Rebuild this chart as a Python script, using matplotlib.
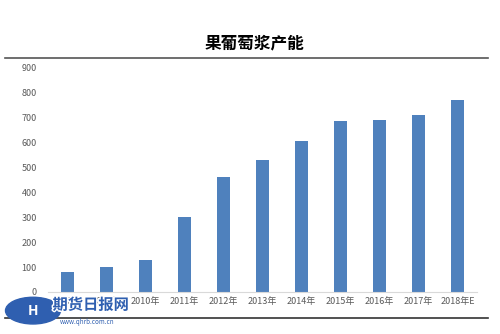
import matplotlib.pyplot as plt
import matplotlib.patheffects as pe
from matplotlib.patches import Ellipse

plt.rcParams['font.family'] = ['Noto Sans CJK SC', 'DejaVu Sans']

# data
years = ['2008年', '2009年', '2010年', '2011年', '2012年', '2013年',
         '2014年', '2015年', '2016年', '2017年', '2018年E']
capacity = [80, 100, 130, 300, 460, 530, 608, 685, 690, 710, 770]
yticks = [0, 100, 200, 300, 400, 500, 600, 700, 800, 900]

fig = plt.figure(figsize=(5, 3.34), dpi=100)
ax = fig.add_axes([0.096, 0.126, 0.858, 0.671])

ax.bar(range(len(years)), capacity, width=0.34, color='#4F81BD')
ax.set_xlim(-0.5, len(years) - 0.5)
ax.set_ylim(0, 900)
ax.set_yticks(yticks)
ax.set_xticks(range(len(years)))
ax.set_xticklabels(years)
ax.tick_params(axis='both', length=0, labelsize=6.5, colors='#595959')
ax.tick_params(axis='y', pad=8)
ax.tick_params(axis='x', pad=4)
for s in ['top', 'right', 'left']:
    ax.spines[s].set_visible(False)
ax.spines['bottom'].set_color('#D9D9D9')
ax.spines['bottom'].set_linewidth(0.8)

fig.text(0.51, 0.87, '果葡萄浆产能', ha='center', va='center',
         fontsize=12, fontweight='bold', color='black')

# frame lines above and below the chart
fig.add_artist(plt.Line2D([0.01, 0.975], [0.826, 0.826], color='#555555', lw=1.2))
fig.add_artist(plt.Line2D([0.01, 0.975], [0.048, 0.048], color='#333333', lw=1.2))

# watermark
fig.add_artist(Ellipse((0.066, 0.07), 0.11, 0.08, color='#2F5FB0', zorder=5))
fig.text(0.066, 0.07, 'H', ha='center', va='center', fontsize=10,
         fontweight='bold', color='white', zorder=6)
fig.text(0.105, 0.088, '期货日报网', ha='left', va='center', fontsize=11,
         fontweight='bold', color='#2F5FB0', zorder=6,
         path_effects=[pe.withStroke(linewidth=2, foreground='white')])
fig.text(0.12, 0.035, 'www.qhrb.com.cn', ha='left', va='center', fontsize=4.5,
         color='#2F5FB0', zorder=6)

fig.savefig('out.png', dpi=100)
